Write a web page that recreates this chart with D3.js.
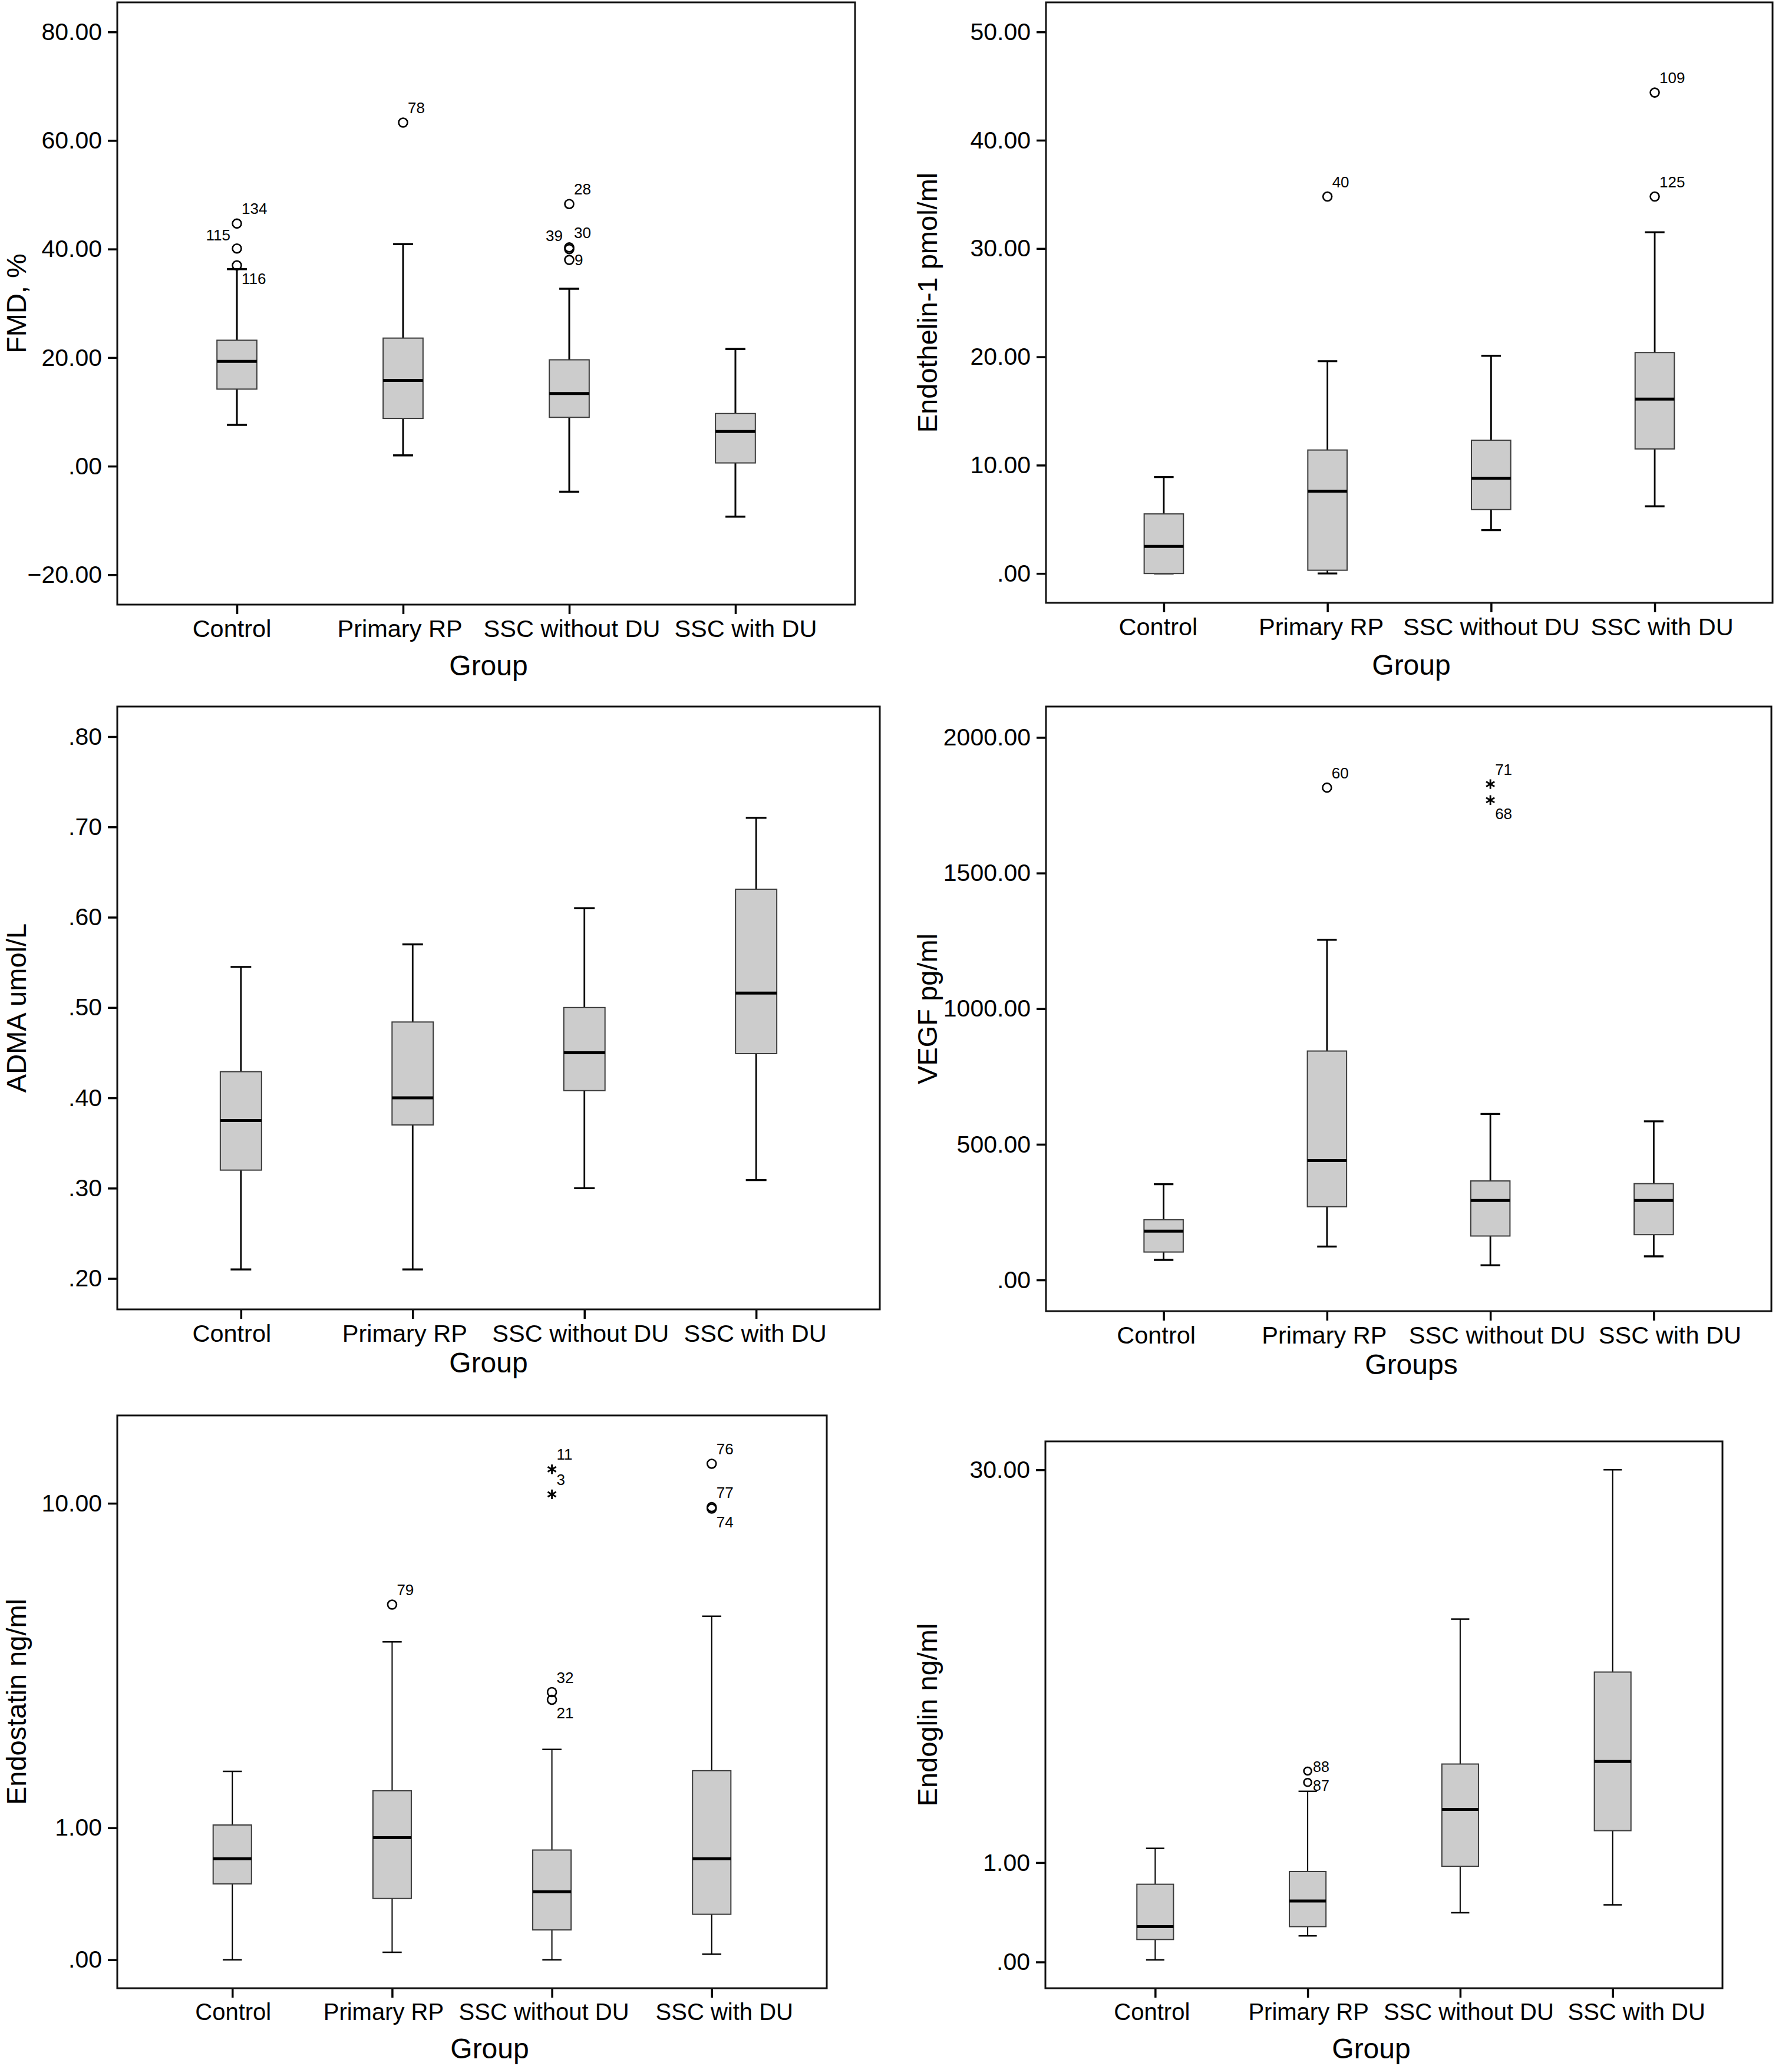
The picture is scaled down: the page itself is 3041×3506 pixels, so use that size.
<!DOCTYPE html>
<html><head><meta charset="utf-8">
<script src="https://cdn.jsdelivr.net/npm/d3@7"></script>
<style>
body{margin:0;background:#fff}
text{font-family:"Liberation Sans",Arial,Helvetica,sans-serif;fill:#000}
</style>
</head><body>
<svg id="chart" width="3041" height="3506"></svg>
<script>
// ---------------- DATA ----------------
const groups = ["Control", "Primary RP", "SSC without DU", "SSC with DU"];

// box summaries per group: [low whisker, Q1, median, Q3, high whisker]
const fmdBoxes = [[7.6,14.2,19.3,23.2,36.3],[2.0,8.8,15.8,23.6,40.9],[-4.7,9.0,13.4,19.6,32.7],[-9.3,0.6,6.4,9.7,21.6]];
const fmdOutliers = [[0,44.7,"134","o"],[0,40.1,"115","o"],[0,37.0,"116","o"],[1,63.3,"78","o"],[2,48.3,"28","o"],[2,40.0,"39","o"],[2,40.3,"30","o"],[2,38.0,"9","o"]];
const fmdTicks = [-20,0,20,40,60,80];

const et1Boxes = [[0,0,2.5,5.5,8.9],[0.0,0.3,7.6,11.4,19.6],[4.0,5.9,8.8,12.3,20.1],[6.2,11.5,16.1,20.4,31.5]];
const et1Outliers = [[1,34.8,"40","o"],[3,44.4,"109","o"],[3,34.8,"125","o"]];
const et1Ticks = [0,10,20,30,40,50];

const admaBoxes = [[0.210,0.320,0.375,0.429,0.545],[0.210,0.370,0.400,0.484,0.570],[0.300,0.408,0.450,0.500,0.610],[0.309,0.449,0.516,0.631,0.710]];
const admaOutliers = [];
const admaTicks = [0.2,0.3,0.4,0.5,0.6,0.7,0.8];

const vegfBoxes = [[74,103,180,222,353],[123,270,440,844,1254],[54,162,293,365,612],[87,167,293,355,585]];
const vegfOutliers = [[1,1815,"60","o"],[2,1828,"71","*"],[2,1769,"68","*"]];
const vegfTicks = [0,500,1000,1500,2000];

const endostatinBoxes = [[0,0.49,0.70,1.03,1.69],[0.04,0.38,0.90,1.43,4.31],[0,0.17,0.43,0.78,2.02],[0.03,0.27,0.70,1.70,5.08]];
const endostatinOutliers = [[1,5.46,"79","o"],[2,12.15,"11","*"],[2,10.53,"3","*"],[2,3.08,"32","o"],[2,2.92,"21","o"],[3,12.54,"76","o"],[3,9.78,"77","o"],[3,9.70,"74","o"]];
const endostatinTicks = [0,1,10];

const endoglinBoxes = [[0.015,0.17,0.28,0.72,1.21],[0.20,0.28,0.53,0.88,2.29],[0.41,0.95,1.90,2.98,9.94],[0.49,1.50,3.05,6.56,30.0]];
const endoglinOutliers = [[1,2.79,"88","o"],[1,2.50,"87","o"]];
const endoglinTicks = [0,1,30];

const yTitles = ["FMD, %","Endothelin-1 pmol/ml","ADMA umol/L","VEGF pg/ml","Endostatin ng/ml","Endoglin ng/ml"];
const xTitles = ["Group","Group","Group","Groups","Group","Group"];

// ---------------- LAYOUT / STYLE ----------------
const labelSides = {
  fmd: ["ur","ul","lr","ur","ur","ul","ur","r"],
  et1: ["ur","ur","ur"],
  adma: [],
  vegf: ["ur","ur","lr"],
  endostatin: ["ur","ur","ur","ur","lr","ur","ur","lr"],
  endoglin: ["ru","rd"]
};

const panels = [
  {boxes:fmdBoxes, out:fmdOutliers, ticks:fmdTicks, sides:labelSides.fmd, type:"lin", domain:[-25.5,85.45],
   x0:199,x1:1451,y0:4,y1:1026, titleX:44, groupX:829, groupDy:120, ww:3, lblFs:41.5, lblOff:[-9,-6,4,17]},
  {boxes:et1Boxes, out:et1Outliers, ticks:et1Ticks, sides:labelSides.et1, type:"lin", domain:[-2.71,52.73],
   x0:1775,x1:3008,y0:4,y1:1023, titleX:1590, groupX:2395, groupDy:122, ww:2.8, lblFs:41.5, lblOff:[-10,-11,0,12]},
  {boxes:admaBoxes, out:admaOutliers, ticks:admaTicks, sides:labelSides.adma, type:"lin", domain:[0.1658,0.8333],
   x0:199,x1:1493,y0:1199,y1:2222, titleX:44, groupX:829, groupDy:107, ww:2.8, lblFs:41.5, lblOff:[-16,-14,-7,-2]},
  {boxes:vegfBoxes, out:vegfOutliers, ticks:vegfTicks, sides:labelSides.vegf, type:"lin", domain:[-115,2114],
   x0:1775,x1:3006,y0:1199,y1:2225, titleX:1590, groupX:2395, groupDy:107, ww:2.8, lblFs:41.5, lblOff:[-13,-5,11,27]},
  {boxes:endostatinBoxes, out:endostatinOutliers, ticks:endostatinTicks, sides:labelSides.endostatin, type:"symlog", domain:[-0.161,16.45],
   x0:199,x1:1403,y0:2402,y1:3374, titleX:44, groupX:831, groupDy:119, ww:2, lblFs:40, lblOff:[1,-15,-14,21]},
  {boxes:endoglinBoxes, out:endoglinOutliers, ticks:endoglinTicks, sides:labelSides.endoglin, type:"symlog", domain:[-0.2007,36.8],
   x0:1774,x1:2923,y0:2446,y1:3374, titleX:1590, groupX:2327, groupDy:119, ww:2, lblFs:40, lblOff:[-6,1,14,40]}
];

const fmt2 = d3.format(".2f");
function spss(v){ return fmt2(v).replace(/^([\u2212-]?)0\./, "$1."); }

const svg = d3.select("#chart");
svg.append("rect").attr("width",3041).attr("height",3506).attr("fill","#fff");

panels.forEach((p, pi) => {
  const g = svg.append("g");
  const x = d3.scalePoint().domain(groups).range([p.x0, p.x1]).padding(0.72);
  const y = (p.type === "symlog" ? d3.scaleSymlog().constant(1) : d3.scaleLinear())
              .domain(p.domain).range([p.y1, p.y0]);
  const step = x.step();
  const bw = step * 0.24;

  // axes
  const ya = g.append("g").attr("transform", `translate(${p.x0},0)`)
    .call(d3.axisLeft(y).tickValues(p.ticks).tickFormat(spss).tickSize(16).tickSizeOuter(0).tickPadding(10));
  const xa = g.append("g").attr("transform", `translate(0,${p.y1})`)
    .call(d3.axisBottom(x).tickSize(16).tickSizeOuter(0).tickPadding(10));
  [ya, xa].forEach(a => {
    a.select(".domain").remove();
    a.selectAll(".tick line").attr("stroke","#000").attr("stroke-width",3.5);
    a.selectAll(".tick text").attr("font-size",41).attr("font-family",'"Liberation Sans",Arial,sans-serif').attr("fill","#000");
  });
  xa.selectAll(".tick text").attr("font-size",p.lblFs).attr("x",(d,i)=>p.lblOff[i]);

  // frame
  g.append("rect").attr("x",p.x0).attr("y",p.y0).attr("width",p.x1-p.x0).attr("height",p.y1-p.y0)
    .attr("fill","none").attr("stroke","#111").attr("stroke-width",3);

  // boxes
  const bx = g.selectAll("g.box").data(p.boxes).join("g").attr("class","box");
  bx.append("line").attr("x1",(d,i)=>x(groups[i])).attr("x2",(d,i)=>x(groups[i]))
    .attr("y1",d=>y(d[0])).attr("y2",d=>y(d[1])).attr("stroke","#000").attr("stroke-width",p.ww);
  bx.append("line").attr("x1",(d,i)=>x(groups[i])).attr("x2",(d,i)=>x(groups[i]))
    .attr("y1",d=>y(d[3])).attr("y2",d=>y(d[4])).attr("stroke","#000").attr("stroke-width",p.ww);
  bx.append("line").attr("x1",(d,i)=>x(groups[i])-bw/4).attr("x2",(d,i)=>x(groups[i])+bw/4)
    .attr("y1",d=>y(d[0])).attr("y2",d=>y(d[0])).attr("stroke","#000").attr("stroke-width",p.ww+0.5);
  bx.append("line").attr("x1",(d,i)=>x(groups[i])-bw/4).attr("x2",(d,i)=>x(groups[i])+bw/4)
    .attr("y1",d=>y(d[4])).attr("y2",d=>y(d[4])).attr("stroke","#000").attr("stroke-width",p.ww+0.5);
  bx.append("rect").attr("x",(d,i)=>x(groups[i])-bw/2).attr("width",bw)
    .attr("y",d=>y(d[3])).attr("height",d=>Math.max(0,y(d[1])-y(d[3])))
    .attr("fill","#cccccc").attr("stroke","#3c3c3c").attr("stroke-width",2);
  bx.append("line").attr("x1",(d,i)=>x(groups[i])-bw/2).attr("x2",(d,i)=>x(groups[i])+bw/2)
    .attr("y1",d=>y(d[2])).attr("y2",d=>y(d[2])).attr("stroke","#000").attr("stroke-width",5);

  // outliers
  const r = pi === 5 ? 6.5 : 7.5;
  const star = d3.symbol().type(d3.symbolAsterisk || d3.symbolCross).size(190);
  p.out.forEach((o, k) => {
    const cx = x(groups[o[0]]), cy = y(o[1]);
    if (o[3] === "*") {
      g.append("path").attr("d", star()).attr("transform",`translate(${cx},${cy})`)
        .attr("fill","none").attr("stroke","#000").attr("stroke-width",2.8);
    } else {
      g.append("circle").attr("cx",cx).attr("cy",cy).attr("r",r)
        .attr("fill","none").attr("stroke","#000").attr("stroke-width",2.6);
    }
    const side = p.sides[k] || "ur";
    let dx = 8, dy = -16, anchor = "start", fs = 26;
    if (side === "ul") { dx = -11; dy = -14; anchor = "end"; }
    if (side === "lr") { dx = 8; dy = 32; }
    if (side === "r")  { dx = 9; dy = 9; }
    if (side === "ru") { dx = 9; dy = 2; fs = 25; }
    if (side === "rd") { dx = 9; dy = 14; fs = 25; }
    g.append("text").attr("x",cx+dx).attr("y",cy+dy).attr("text-anchor",anchor)
      .attr("font-size",fs).text(o[2]);
  });

  // titles
  g.append("text").attr("transform",`translate(${p.titleX},${(p.y0+p.y1)/2}) rotate(-90)`)
    .attr("text-anchor","middle").attr("font-size",47).text(yTitles[pi]);
  g.append("text").attr("x",p.groupX).attr("y",p.y1+p.groupDy)
    .attr("text-anchor","middle").attr("font-size",48).text(xTitles[pi]);
});
</script>
</body></html>
